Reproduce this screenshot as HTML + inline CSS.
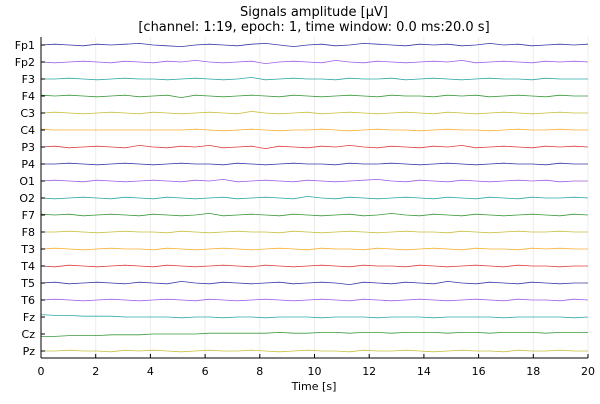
<!DOCTYPE html>
<html><head><meta charset="utf-8"><style>
body{margin:0;background:#fff;font-family:"DejaVu Sans",sans-serif}
</style></head><body>
<svg id="c" width="600" height="400" xmlns="http://www.w3.org/2000/svg" font-family="DejaVu Sans, sans-serif">
<text x="314" y="16" text-anchor="middle" font-size="13">Signals amplitude [µV]</text>
<text x="314" y="31" text-anchor="middle" font-size="13">[channel: 1:19, epoch: 1, time window: 0.0 ms:20.0 s]</text>
<text x="314" y="390" text-anchor="middle" font-size="11">Time [s]</text>
<g id="grid"></g><g id="series"></g><g id="axes"></g>
</svg>
<script>
const channels=["Fp1","Fp2","F3","F4","C3","C4","P3","P4","O1","O2","F7","F8","T3","T4","T5","T6","Fz","Cz","Pz"];
const xTicks=[0,2,4,6,8,10,12,14,16,18,20];
const colors=["#3a3aa8","#a060e8","#30a8a8","#3a9a3a","#c8c040","#f8b030","#e04040"];
const signals=[
[0,1,0,-1,1,0,1,2,0,-1,-2,0,1,0,-1,1,2,0,-2,0,1,-1,0,2,1,0,-1,1,0,1,-1,0,2,0,1,-1,0,1,0,1],
[0,-1,0,1,0,-1,1,0,-1,1,0,2,0,-1,0,1,-2,0,1,0,-1,2,0,-1,1,0,-1,0,1,0,2,-1,0,1,0,-1,1,0,1,0],
[0,0,1,0,-1,0,1,0,0,-1,0,1,0,-1,0,2,-1,0,1,0,0,-1,1,0,0,1,-1,0,1,0,-1,0,1,0,0,-1,1,0,0,0],
[1,0,1,0,-1,0,1,-1,0,1,-2,1,0,-1,0,1,0,-1,1,0,-1,0,1,0,-1,1,0,0,-1,1,0,1,-1,0,1,0,-1,1,0,0],
[0,1,0,-1,0,1,0,-1,1,0,-1,0,1,0,-1,2,0,-1,0,1,-1,0,1,0,-1,0,1,0,-1,1,0,-1,0,1,0,-1,0,1,0,0],
[1,0,0,0,0,0,0,0,0,0,0,1,0,-1,0,1,0,-1,0,0,1,0,-1,0,1,0,0,-1,0,1,0,0,-1,0,1,0,0,1,0,0],
[0,1,-1,0,1,0,-1,2,0,-1,1,0,2,-1,0,1,-2,1,0,-1,1,0,2,0,-1,1,0,-1,1,0,2,-1,0,1,0,-1,1,0,1,0],
[0,0,1,0,-1,0,1,0,-1,0,1,0,0,-1,1,0,-1,0,1,0,0,-1,1,0,0,1,0,-1,0,1,0,-1,0,1,0,0,-1,1,0,0],
[0,1,0,-1,1,0,-1,0,1,0,-1,1,0,2,-1,0,1,0,-1,1,0,-1,0,1,2,0,-1,1,0,-1,1,0,-1,0,1,0,1,-1,0,0],
[0,-1,0,1,0,-1,1,0,-1,1,0,-1,0,1,-1,0,1,0,-1,2,0,-1,1,0,-1,0,1,0,-1,1,0,-1,1,0,-1,1,0,0,1,0],
[1,0,1,-1,0,1,0,-1,1,0,-1,0,2,-1,0,1,0,-1,1,0,-1,0,1,-1,0,2,0,-1,1,0,-1,1,0,-1,0,1,0,-1,1,0],
[0,0,1,0,-1,0,1,0,0,-1,1,0,-1,0,1,0,0,-1,1,0,-1,0,1,0,-1,0,1,0,0,-1,1,0,-1,0,1,0,0,1,0,0],
[0,1,0,-1,0,1,0,0,-1,1,0,-1,0,1,0,-1,0,1,0,-1,1,0,0,-1,1,0,-1,0,1,0,-1,1,0,0,-1,1,0,1,0,0],
[0,-1,1,0,-1,0,1,0,-1,1,0,-1,0,1,0,-1,1,0,-1,0,1,0,-1,1,0,0,-1,1,0,-1,0,1,0,-1,1,0,0,-1,0,0],
[0,1,-1,0,1,0,-1,1,0,-1,2,0,-1,1,0,-1,0,1,-1,0,1,0,-2,1,0,-1,1,0,-1,2,0,-1,1,0,-1,1,0,-1,0,0],
[0,1,0,-1,0,1,0,-1,0,1,0,-1,1,0,-1,0,1,0,-1,0,1,0,-1,1,0,-1,0,1,0,-1,0,1,0,-1,1,0,0,-1,1,0],
[3,2,2,1,1,1,0,0,0,0,-1,0,0,-1,0,0,-1,0,0,0,-1,0,0,0,-1,0,0,0,-1,0,0,0,0,-1,0,0,0,0,-1,0],
[-3,-3,-2,-2,-2,-1,-1,-1,0,0,0,0,1,1,1,1,1,2,1,1,2,2,1,2,2,1,2,2,2,1,2,2,1,2,2,2,1,2,2,2],
[0,0,1,0,0,-1,1,0,1,0,-1,0,1,0,0,1,0,-1,0,1,0,0,-1,1,0,0,1,0,-1,0,1,0,0,-1,1,0,0,1,0,0]
];
const L=41,R=588,T=37,B=358,Y0=45,DY=17;
const xs=t=>L+(R-L)*t/20;
const yc=i=>Y0+i*DY;
const svg=document.getElementById('c'),NS="http://www.w3.org/2000/svg";
const mk=(p,tag,a)=>{const e=document.createElementNS(NS,tag);for(const k in a)e.setAttribute(k,a[k]);p.appendChild(e);return e;};
const grid=document.getElementById('grid'),ser=document.getElementById('series'),ax=document.getElementById('axes');
xTicks.forEach(t=>{
 const g=mk(grid,'line',{x1:xs(t),x2:xs(t),y1:T,y2:B,stroke:"#ececec","stroke-width":1});
 
 
 const tk=mk(ax,'line',{x1:xs(t),x2:xs(t),y1:B,y2:B-4,stroke:"#000"});
 
 
 const tx=mk(ax,'text',{x:xs(t),y:B+17,"text-anchor":"middle","font-size":11});
 tx.textContent=t;
 
 
});
channels.forEach((ch,i)=>{
 const d=signals[i],n=d.length;
 const pts=d.map((v,j)=>xs(20*j/(n-1)).toFixed(1)+","+(yc(i)-v*0.8).toFixed(1)).join(" ");
 const p=mk(ser,'polyline',{points:pts,fill:"none",stroke:colors[i%7],"stroke-width":0.8});
 
 
 const tk=mk(ax,'line',{x1:L,x2:L+4,y1:yc(i),y2:yc(i),stroke:"#000"});
 
 
 const tx=mk(ax,'text',{x:L-6,y:yc(i)+4,"text-anchor":"end","font-size":11});
 tx.textContent=ch;
 
 
});
const xa=mk(ax,'line',{x1:L,x2:R,y1:B,y2:B,stroke:"#000"});


const ya=mk(ax,'line',{x1:L,x2:L,y1:T,y2:B,stroke:"#000"});


</script>
</body></html>
